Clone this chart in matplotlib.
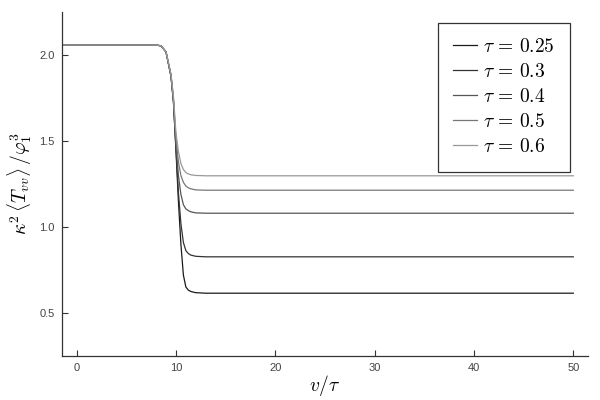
import matplotlib
matplotlib.use('Agg')
import matplotlib.pyplot as plt
import numpy as np

plt.rcParams['mathtext.fontset'] = 'cm'
plt.rcParams['font.family'] = ['Liberation Sans', 'DejaVu Sans']

# sample points in v/tau (shared by all curves)
v = [-1.5, 8.0, 8.5, 9.0, 9.5, 9.75, 10.0, 10.25, 10.5, 10.75, 11.0, 11.25, 11.5, 12.0, 13.0, 50.0]

taus = ['0.25', '0.3', '0.4', '0.5', '0.6']

T_025 = [2.06, 2.06, 2.055, 2.02, 1.88, 1.73, 1.45, 1.15, 0.90, 0.72, 0.65, 0.632, 0.624, 0.617, 0.614, 0.614]
T_03  = [2.06, 2.06, 2.055, 2.02, 1.88, 1.73, 1.46, 1.20, 1.02, 0.91, 0.862, 0.845, 0.836, 0.829, 0.826, 0.826]
T_04  = [2.06, 2.06, 2.055, 2.02, 1.88, 1.74, 1.48, 1.30, 1.19, 1.13, 1.105, 1.095, 1.088, 1.082, 1.080, 1.080]
T_05  = [2.06, 2.06, 2.055, 2.02, 1.89, 1.75, 1.52, 1.38, 1.30, 1.26, 1.238, 1.228, 1.222, 1.216, 1.214, 1.214]
T_06  = [2.06, 2.06, 2.055, 2.02, 1.89, 1.76, 1.55, 1.44, 1.37, 1.335, 1.317, 1.309, 1.304, 1.300, 1.298, 1.298]

series = [T_025, T_03, T_04, T_05, T_06]
colors = ['#1a1a1a', '#333333', '#555555', '#777777', '#999999']

fig = plt.figure(figsize=(6, 4), dpi=100)
ax = fig.add_axes([0.1028, 0.1108, 0.8767, 0.8582])

for tau, vals, c in zip(taus, series, colors):
    ax.plot(v, vals, color=c, lw=0.9, label=r'$\tau\,=\,%s$' % tau)

ax.set_xlim(-1.5, 51.45)
ax.set_ylim(0.25, 2.25)
ax.set_xticks([0, 10, 20, 30, 40, 50])
ax.set_yticks([0.5, 1.0, 1.5, 2.0])
ax.set_yticklabels(['0.5', '1.0', '1.5', '2.0'])

for s in ['top', 'right']:
    ax.spines[s].set_visible(False)
for s in ['left', 'bottom']:
    ax.spines[s].set_color('#333333')
    ax.spines[s].set_linewidth(0.9)

ax.tick_params(direction='in', length=4, width=0.8, color='#333333',
               labelsize=8, labelcolor='#444444', pad=5)

ax.set_xlabel(r'$v/\tau$', fontsize=14, labelpad=0)
ax.set_ylabel(r'$\kappa^2\,\langle T_{vv}\rangle\,/\varphi_1^3$', fontsize=14, labelpad=4)

leg = ax.legend(loc='upper right', bbox_to_anchor=(0.966, 0.970), borderaxespad=0,
                fontsize=14, frameon=True, fancybox=False, handlelength=1.2,
                handletextpad=0.3, labelspacing=0.36, borderpad=0.8)
leg.get_frame().set_edgecolor('black')
leg.get_frame().set_linewidth(0.9)

fig.savefig('out.png', dpi=100)
